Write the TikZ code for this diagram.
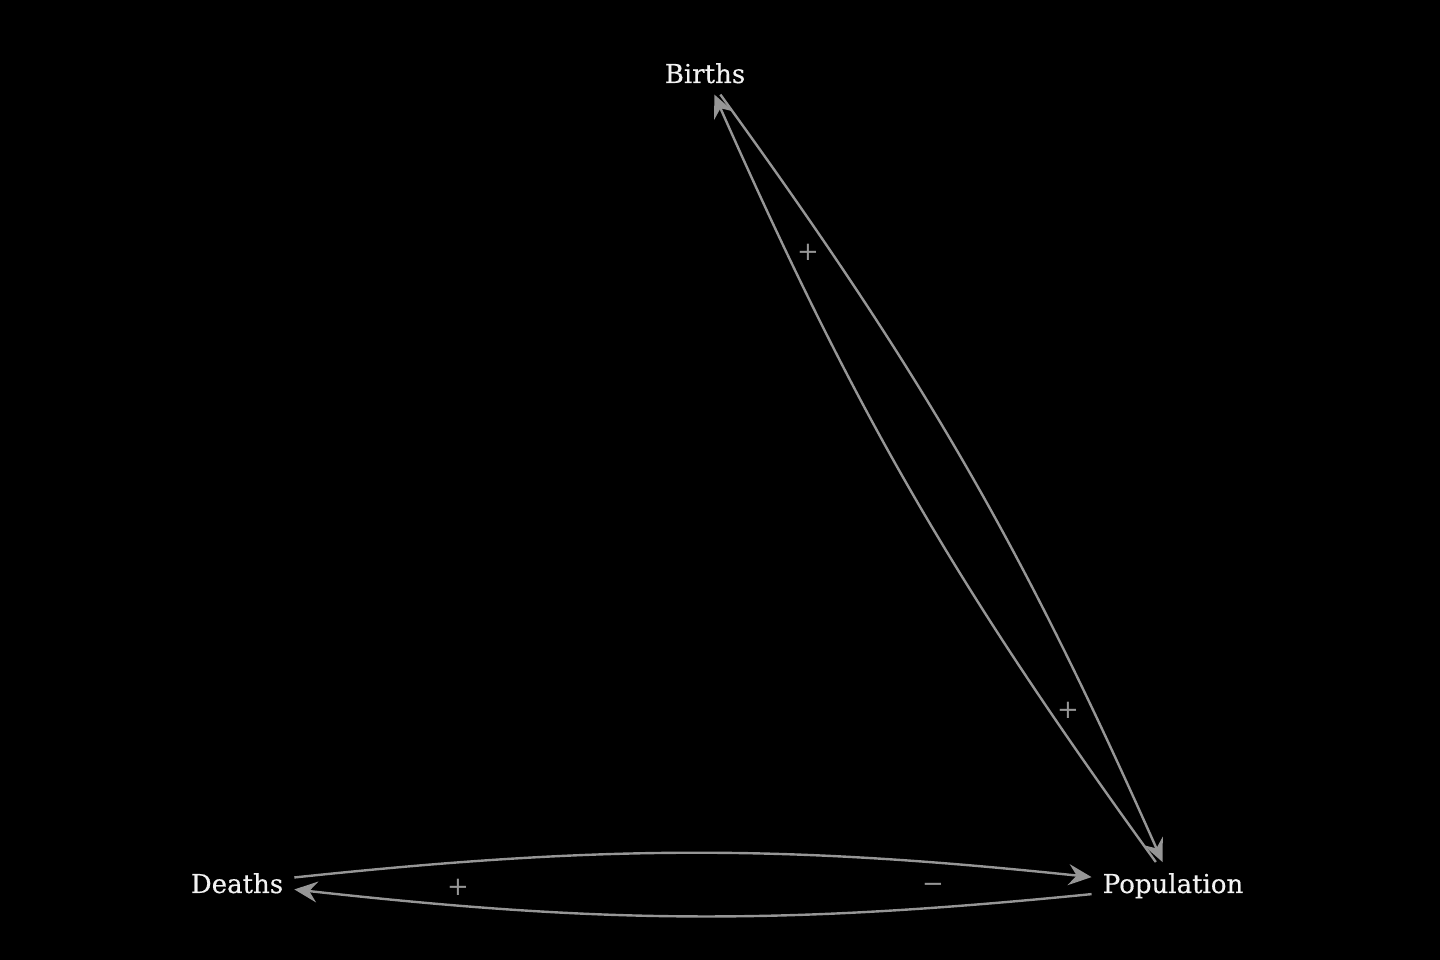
\documentclass[tikz,border=0pt]{standalone}
\usepackage{fontspec}
\setmainfont{DejaVu Serif}
\usepackage{tikz}
\usetikzlibrary{arrows.meta}
\definecolor{labelwhite}{RGB}{242,242,242}
\definecolor{linkgray}{RGB}{150,150,150}
\begin{document}
\begin{tikzpicture}[x=1pt, y=1pt,
    var/.style={labelwhite, anchor=base, inner xsep=11pt, inner ysep=11pt, font=\fontsize{26}{30}\selectfont\addfontfeature{FakeBold=0.4}},
    sign/.style={linkgray, inner sep=0pt, font=\fontsize{26}{30}\selectfont},
    link/.style={linkgray, line width=2.4pt, -{Stealth[length=23pt, width=21pt, inset=8pt]}}]
            \fill[black] (0, 0) rectangle (1440, 960);
            \useasboundingbox (0, 0) rectangle (1440, 960);
            \draw
            (705, 877) node[var](births) {Births}
            (237, 67) node[var](deaths) {Deaths}
            (1173, 67) node[var](pop) {Population};

            \draw[link] (births) to[bend left=6] (pop);
            \draw[link] (pop) to[bend left=6] (births);
            \draw[link] (deaths) to[bend left=6] (pop);
            \draw[link] (pop) to[bend left=6] (deaths);

            \draw
            (808, 708) node[sign](s1) {+}
            (1068, 250) node[sign](s2) {+}
            (458, 73) node[sign](s3) {+}
            (933, 72) node[sign](s4) {−};
        \end{tikzpicture}
\end{document}
